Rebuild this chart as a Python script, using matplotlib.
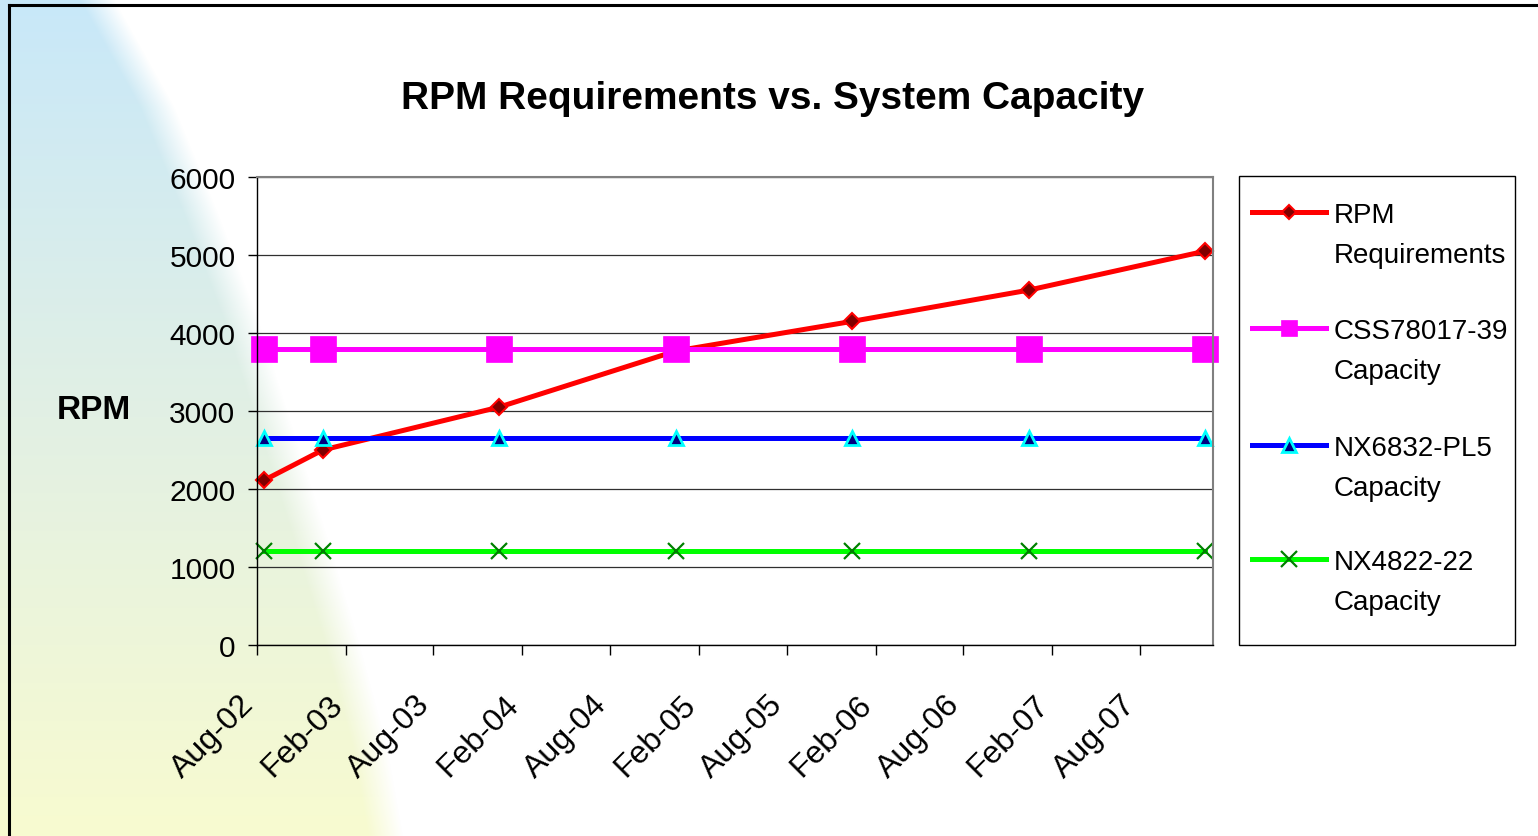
import numpy as np
import pandas as pd
import matplotlib
matplotlib.use("Agg")
import matplotlib.pyplot as plt
import matplotlib.dates as mdates
import matplotlib.transforms as mtransforms
from matplotlib.lines import Line2D
from matplotlib.patches import Rectangle

plt.rcParams["font.family"] = ["Liberation Sans", "DejaVu Sans"]

# data
dates = pd.to_datetime([
    "2002-08-15", "2002-12-15", "2003-12-15", "2004-12-15",
    "2005-12-15", "2006-12-15", "2007-12-15",
])
rpm_req = [2110, 2500, 3050, 3770, 4150, 4550, 5050]
css_cap = [3800, 3800, 3800, 3800, 3800, 3800, 3800]
nx6832_cap = [2650, 2650, 2650, 2650, 2650, 2650, 2650]
nx4822_cap = [1200, 1200, 1200, 1200, 1200, 1200, 1200]

labels = ["RPM\nRequirements", "CSS78017-39\nCapacity",
          "NX6832-PL5\nCapacity", "NX4822-22\nCapacity"]
title = "RPM Requirements vs. System Capacity"
y_ticks = [0, 1000, 2000, 3000, 4000, 5000, 6000]

W, H = 1538, 837
fig = plt.figure(figsize=(W / 100, H / 100), dpi=100, facecolor="white")

# background: soft blue-to-yellow swoosh on the left
bg = fig.add_axes([0, 0, 1, 1], zorder=-10)
bg.set_axis_off()
yy = np.arange(H)[:, None]
xx = np.arange(W)[None, :]
edge_y = [0, 107, 214, 320, 427, 534, 640, 747, 837]
edge_x = [114, 174, 218, 258, 292, 326, 358, 387, 403]
edge = np.interp(yy, edge_y, edge_x)
alpha = np.clip((edge - xx) / 35.0, 0, 1)
t = np.linspace(0, 1, H)[:, None]
top_c = np.array([200, 232, 249]) / 255
mid_c = np.array([226, 240, 228]) / 255
bot_c = np.array([248, 251, 208]) / 255
col = np.where(t[..., None] < 0.5,
               top_c + (mid_c - top_c) * (t[..., None] / 0.5),
               mid_c + (bot_c - mid_c) * ((t[..., None] - 0.5) / 0.5))
rgba = np.ones((H, W, 4))
rgba[..., :3] = col
rgba[..., 3] = alpha
bg.imshow(rgba, extent=[0, W, H, 0], aspect="auto")
bg.set_xlim(0, W)
bg.set_ylim(H, 0)

ax = fig.add_axes([257 / W, 1 - 646 / H, 956 / W, 468 / H])
ax.set_facecolor("none")

styles = [
    dict(color="#ff0000", lw=3.6, marker="D", ms=8.5, mfc="#800000", mec="#ff0000", mew=1.5),
    dict(color="#ff00ff", lw=3.6, marker="s", ms=19, mfc="#ff00ff", mec="#ff00ff", mew=0.5),
    dict(color="#0000ff", lw=3.6, marker="^", ms=10, mfc="#000080", mec="#00ffff", mew=2),
    dict(color="#00ff00", lw=3.6, marker="x", ms=11, mfc="#008000", mec="#008000", mew=1.6),
]
series = [rpm_req, css_cap, nx6832_cap, nx4822_cap]
for vals, st in zip(series, styles):
    ax.plot(dates, vals, clip_on=False, **st)

ax.set_ylim(0, 6000)
ax.set_yticks(y_ticks)
ax.set_xlim(pd.Timestamp("2002-08-01"), pd.Timestamp("2007-12-31"))
ax.xaxis.set_major_locator(mdates.MonthLocator(bymonth=[2, 8]))
ax.xaxis.set_major_formatter(mdates.DateFormatter("%b-%y"))
ax.yaxis.grid(True, color="#303030", lw=0.9)
ax.set_axisbelow(True)

ax.tick_params(axis="y", direction="out", length=6.5, width=1, pad=9, labelsize=21.5)
ax.tick_params(axis="x", direction="out", length=7.5, width=1, pad=32, labelsize=23)
shift = mtransforms.ScaledTranslation(-8 / 100, 0, fig.dpi_scale_trans)
for lab in ax.get_xticklabels():
    lab.set_rotation(45)
    lab.set_ha("right")
    lab.set_va("center")
    lab.set_rotation_mode("anchor")
    lab.set_transform(lab.get_transform() + shift)

for s in ["left", "bottom"]:
    ax.spines[s].set_color("black")
    ax.spines[s].set_linewidth(1)
for s in ["top", "right"]:
    ax.spines[s].set_color("#808080")
    ax.spines[s].set_linewidth(1.5)

ax.set_ylabel("RPM", rotation=0, fontsize=24, fontweight="bold", ha="center", va="center")
ax.yaxis.set_label_coords(-0.1705, 0.504)

fig.text(773 / W, 1 - 99 / H, title, ha="center", va="center",
         fontsize=28, fontweight="bold")

# legend drawn like the Excel one: marker sits on the first text line
fig.add_artist(Rectangle((1239 / W, 1 - 646 / H), 276 / W, 469 / H,
                         transform=fig.transFigure, facecolor="white",
                         edgecolor="black", lw=1))
leg_y = [213, 329, 446, 560]
leg_ms = [7.5, 12, 10, 11]
for lab, st, ly, lms in zip(labels, styles, leg_y, leg_ms):
    yf = 1 - ly / H
    fig.add_artist(Line2D([1252 / W, 1326 / W], [yf, yf], transform=fig.transFigure,
                          color=st["color"], lw=st["lw"]))
    fig.add_artist(Line2D([1289 / W], [yf], transform=fig.transFigure, ls="none",
                          marker=st["marker"], ms=lms, mfc=st["mfc"],
                          mec=st["mec"], mew=st["mew"]))
    for k, line in enumerate(lab.split("\n")):
        fig.text(1334 / W, 1 - (ly + 10 + 40 * k) / H, line, ha="left",
                 va="baseline", fontsize=20)

# outer frame (top and left edges visible)
fig.add_artist(Line2D([8.5 / W, 8.5 / W], [0, 1 - 5.5 / H], transform=fig.transFigure,
                      color="black", lw=2.2))
fig.add_artist(Line2D([8.5 / W, 1], [1 - 5.5 / H, 1 - 5.5 / H], transform=fig.transFigure,
                      color="black", lw=2.2))

fig.savefig("out.png", dpi=100)
